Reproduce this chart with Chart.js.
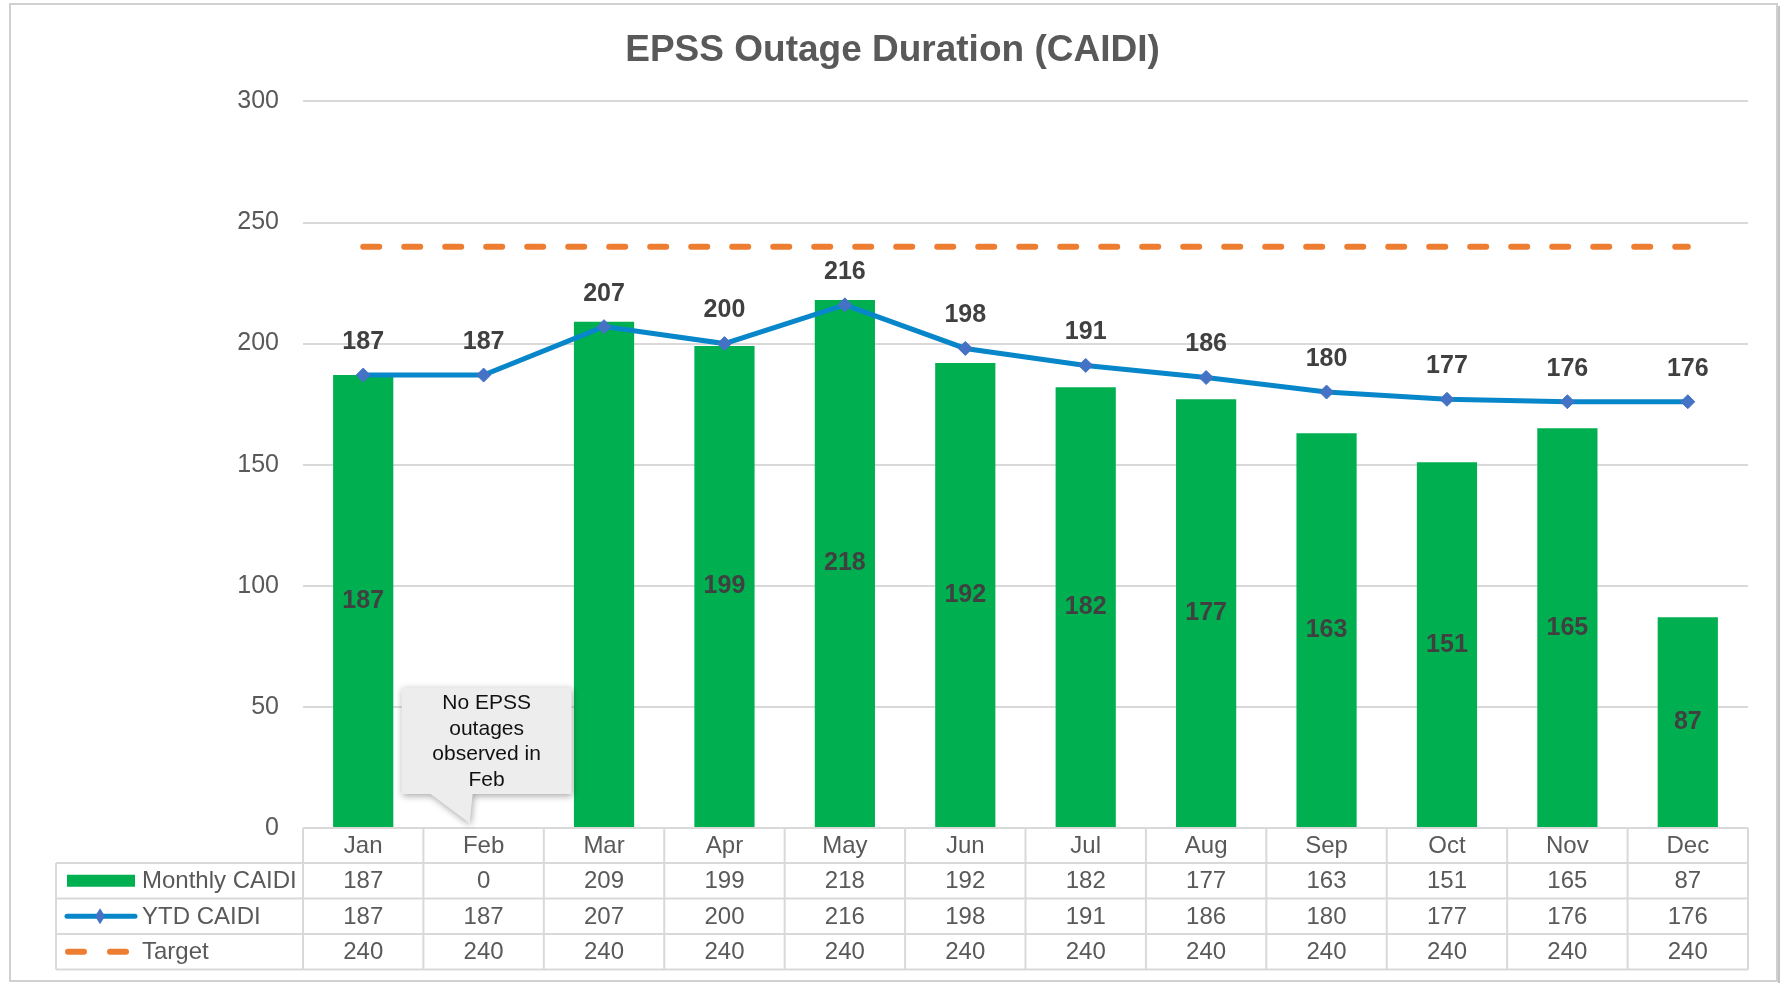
<!DOCTYPE html>
<html>
<head>
<meta charset="utf-8">
<style>
  html, body { margin: 0; padding: 0; background: #fff; }
  #wrap { width: 1785px; height: 983px; position: relative; }
</style>
</head>
<body>
<div id="wrap"><canvas id="caidiChart"></canvas></div>

<script src="https://cdn.jsdelivr.net/npm/chart.js"></script>

<script>
  // values
  const months = ['Jan', 'Feb', 'Mar', 'Apr', 'May', 'Jun', 'Jul', 'Aug', 'Sep', 'Oct', 'Nov', 'Dec'];
  const monthlyCaidi = [187, 0, 209, 199, 218, 192, 182, 177, 163, 151, 165, 87];
  const ytdCaidi = [187, 187, 207, 200, 216, 198, 191, 186, 180, 177, 176, 176];
  const targetCaidi = [240, 240, 240, 240, 240, 240, 240, 240, 240, 240, 240, 240];
  const seriesNames = ['Monthly CAIDI', 'YTD CAIDI', 'Target'];
  // the original has no label inside these bars
  const unlabelledBars = ['Feb', 'Mar'];
  const calloutLines = ['No EPSS', 'outages', 'observed in', 'Feb'];

  const FONT = "'Liberation Sans', Arial, sans-serif";
  const GREEN = '#00B050';
  const BLUE = '#0786C9';
  const MARKER = '#4472C4';
  const ORANGE = '#ED7D31';
  const GRID = '#D9D9D9';
  const TEXT = '#595959';

  const ROW_H = 35.5;
  const HEAD_H = 35;
  const TABLE_LEFT = 56;

  function drawTable(chart) {
    const c = chart.ctx;
    const area = chart.chartArea;
    const x = chart.scales.x;
    const colW = (area.right - area.left) / months.length;
    const top = area.bottom;
    const bodyTop = top + HEAD_H;
    const bottom = bodyTop + ROW_H * 3;

    c.save();
    c.strokeStyle = GRID;
    c.lineWidth = 2;
    c.beginPath();
    c.moveTo(area.left, top); c.lineTo(area.right, top);
    for (let r = 0; r <= 3; r++) {
      const yy = bodyTop + r * ROW_H;
      c.moveTo(TABLE_LEFT, yy); c.lineTo(area.right, yy);
    }
    for (let i = 0; i <= months.length; i++) {
      const xx = area.left + i * colW;
      c.moveTo(xx, top); c.lineTo(xx, bottom);
    }
    c.moveTo(TABLE_LEFT, bodyTop); c.lineTo(TABLE_LEFT, bottom);
    c.stroke();

    c.font = '24px ' + FONT;
    c.fillStyle = TEXT;
    c.textAlign = 'center';
    c.textBaseline = 'middle';
    const rows = [monthlyCaidi, ytdCaidi, targetCaidi];
    months.forEach((m, i) => {
      const cx = x.getPixelForValue(i);
      c.fillText(m, cx, top + HEAD_H / 2 + 1);
      rows.forEach((row, r) => {
        c.fillText(row[i], cx, bodyTop + r * ROW_H + ROW_H / 2 + 1);
      });
    });

    // legend keys in the first column
    c.textAlign = 'left';
    seriesNames.forEach((name, r) => {
      c.fillText(name, 142, bodyTop + r * ROW_H + ROW_H / 2 + 1);
    });
    const y0 = bodyTop + ROW_H / 2;
    c.fillStyle = GREEN;
    c.fillRect(67, y0 - 6, 68, 12);

    const y1 = bodyTop + ROW_H * 1.5;
    c.strokeStyle = BLUE;
    c.lineWidth = 5;
    c.lineCap = 'round';
    c.beginPath(); c.moveTo(67, y1); c.lineTo(135, y1); c.stroke();
    c.fillStyle = MARKER;
    c.beginPath();
    c.moveTo(100, y1 - 8); c.lineTo(105, y1); c.lineTo(100, y1 + 8); c.lineTo(95, y1);
    c.closePath(); c.fill();

    const y2 = bodyTop + ROW_H * 2.5;
    c.strokeStyle = ORANGE;
    c.lineWidth = 6;
    c.beginPath();
    c.moveTo(68, y2); c.lineTo(84, y2);
    c.moveTo(110, y2); c.lineTo(126, y2);
    c.stroke();
    c.restore();
  }

  function drawCallout(chart) {
    const c = chart.ctx;
    const x = chart.scales.x, y = chart.scales.y;
    const cx = x.getPixelForValue(1);
    const left = cx - 82, right = cx + 88;
    const top = y.getPixelForValue(58), bottom = y.getPixelForValue(14);
    const tipY = y.getPixelForValue(2);

    c.save();
    c.shadowColor = 'rgba(0,0,0,0.35)';
    c.shadowBlur = 7;
    c.shadowOffsetX = 1;
    c.shadowOffsetY = 2;
    c.fillStyle = '#EDEDED';
    c.beginPath();
    c.moveTo(left, top);
    c.lineTo(right, top);
    c.lineTo(right, bottom);
    c.lineTo(cx - 11, bottom);
    c.lineTo(cx - 14, tipY);
    c.lineTo(cx - 53, bottom);
    c.lineTo(left, bottom);
    c.closePath();
    c.fill();
    c.restore();

    c.save();
    c.font = '21px ' + FONT;
    c.fillStyle = '#111';
    c.textAlign = 'center';
    c.textBaseline = 'middle';
    calloutLines.forEach((t, i) => {
      c.fillText(t, (left + right) / 2, top + 16 + i * 25.4);
    });
    c.restore();
  }

  const extras = {
    id: 'extras',
    beforeDraw(chart) {
      const c = chart.ctx;
      c.save();
      c.strokeStyle = '#D0D0D0';
      c.lineWidth = 2;
      c.strokeRect(10, 4, 1767, 977);
      c.strokeStyle = '#C4C4C4';
      c.lineWidth = 2;
      c.beginPath(); c.moveTo(1779, 6); c.lineTo(1779, 983); c.stroke();
      c.restore();
    },
    afterDatasetsDraw(chart) {
      const c = chart.ctx;
      c.save();
      c.font = 'bold 25px ' + FONT;
      c.fillStyle = '#404040';
      c.textAlign = 'center';
      c.textBaseline = 'middle';
      chart.getDatasetMeta(0).data.forEach((bar, i) => {
        if (!monthlyCaidi[i] || unlabelledBars.includes(months[i])) return;
        c.fillText(monthlyCaidi[i], bar.x, (bar.y + bar.base) / 2);
      });
      chart.getDatasetMeta(1).data.forEach((pt, i) => {
        c.fillText(ytdCaidi[i], pt.x, pt.y - 33);
      });
      c.restore();
    },
    afterDraw(chart) {
      drawTable(chart);
      drawCallout(chart);
    }
  };

  const ctx = document.getElementById('caidiChart');

  new Chart(ctx, {
    type: 'bar',
    data: {
      labels: months,
      datasets: [{
        label: seriesNames[0],
        data: monthlyCaidi,
        backgroundColor: GREEN,
        barPercentage: 0.5,
        categoryPercentage: 1.0,
        order: 2
      }, {
        type: 'line',
        label: seriesNames[1],
        data: ytdCaidi,
        borderColor: BLUE,
        borderWidth: 5,
        tension: 0,
        pointStyle: 'rectRot',
        pointRadius: 7,
        pointBackgroundColor: MARKER,
        pointBorderColor: MARKER,
        pointBorderWidth: 1,
        order: 0
      }, {
        type: 'line',
        label: seriesNames[2],
        data: targetCaidi,
        borderColor: ORANGE,
        borderWidth: 6,
        borderDash: [16, 25],
        borderCapStyle: 'round',
        pointRadius: 0,
        order: 1
      }]
    },
    options: {
      responsive: true,
      maintainAspectRatio: false,
      animation: false,
      layout: { padding: { left: 0, right: 0, top: 0, bottom: 155 } },
      plugins: {
        legend: { display: false },
        tooltip: { enabled: false },
        title: {
          display: true,
          text: 'EPSS Outage Duration (CAIDI)',
          color: TEXT,
          font: { family: FONT, size: 37, weight: 'bold', lineHeight: 1.2 },
          padding: { top: 29, bottom: 28 }
        }
      },
      scales: {
        x: { display: false },
        y: {
          min: 0,
          max: 300,
          ticks: { stepSize: 50, padding: 24, color: TEXT, font: { family: FONT, size: 25 } },
          grid: { color: GRID, lineWidth: 2, drawTicks: false },
          border: { display: false },
          afterFit(scale) { scale.width = 303; }
        },
        // empty right axis that only keeps the plot clear of the right edge
        yRight: {
          position: 'right',
          ticks: { display: false },
          grid: { display: false },
          border: { display: false },
          afterFit(scale) { scale.width = 37; }
        }
      }
    },
    plugins: [extras]
  });
</script>
</body>
</html>
